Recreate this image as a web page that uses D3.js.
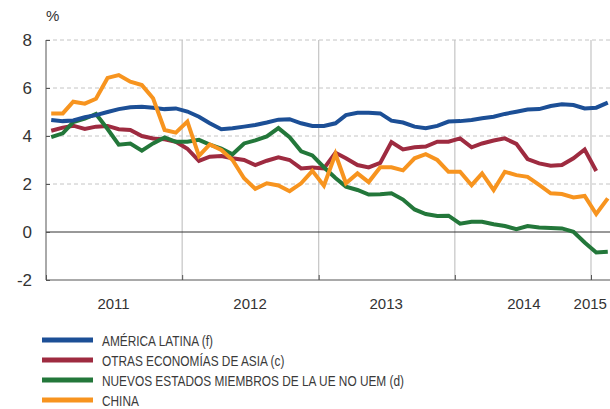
<!DOCTYPE html>
<html>
<head>
<meta charset="utf-8">
<script src="https://cdn.jsdelivr.net/npm/d3@7"></script>
<style>
  body { margin: 0; background: #fff; }
  svg { display: block; font-family: "Liberation Sans", Arial, sans-serif; }
</style>
</head>
<body>
<svg id="chart" width="610" height="409"></svg>
<script>
// monthly series, Jan 2011 .. Feb 2015
const months = d3.timeMonth.range(new Date(2011, 0, 1), new Date(2015, 2, 1));

const americaLatina = [4.67, 4.62, 4.65, 4.78, 4.87, 5.0, 5.12, 5.2, 5.22, 5.18, 5.12, 5.15,
  5.02, 4.8, 4.53, 4.28, 4.32, 4.39, 4.46, 4.56, 4.68, 4.7, 4.53, 4.42,
  4.42, 4.53, 4.87, 4.97, 4.97, 4.94, 4.64, 4.56, 4.39, 4.32, 4.42, 4.6,
  4.62, 4.67, 4.74, 4.8, 4.92, 5.01, 5.1, 5.12, 5.25, 5.32, 5.29, 5.15,
  5.18, 5.39];

const otrasAsia = [4.22, 4.35, 4.43, 4.29, 4.39, 4.42, 4.28, 4.25, 4.0, 3.9, 3.86, 3.76,
  3.47, 2.96, 3.14, 3.17, 3.07, 3.0, 2.79, 2.97, 3.11, 3.0, 2.65, 2.69,
  2.65, 3.3, 3.07, 2.79, 2.69, 2.88, 3.75, 3.44, 3.53, 3.56, 3.76, 3.76,
  3.9, 3.53, 3.69, 3.81, 3.9, 3.67, 3.04, 2.86, 2.76, 2.79, 3.07, 3.44,
  2.54];

const nuevosUE = [3.95, 4.11, 4.58, 4.72, 4.92, 4.29, 3.64, 3.69, 3.39, 3.69, 3.94, 3.76,
  3.76, 3.84, 3.64, 3.47, 3.24, 3.69, 3.82, 3.98, 4.33, 3.95, 3.36, 3.19,
  2.7, 2.25, 1.89, 1.75, 1.56, 1.57, 1.61, 1.35, 0.94, 0.75, 0.67, 0.68,
  0.35, 0.43, 0.43, 0.32, 0.25, 0.12, 0.25, 0.19, 0.17, 0.15, 0.01, -0.44,
  -0.85, -0.82];

const china = [4.94, 4.94, 5.43, 5.35, 5.55, 6.42, 6.54, 6.26, 6.12, 5.57, 4.25, 4.14,
  4.6, 3.17, 3.65, 3.42, 3.0, 2.24, 1.8, 2.03, 1.94, 1.7, 2.03, 2.55,
  1.93, 3.25, 2.03, 2.44, 2.08, 2.7, 2.7, 2.57, 3.07, 3.24, 3.0, 2.51,
  2.51, 1.95, 2.44, 1.75, 2.51, 2.37, 2.3, 1.96, 1.61, 1.58, 1.44, 1.5,
  0.75, 1.4];

const seriesNames = ['AMÉRICA LATINA (f)', 'OTRAS ECONOMÍAS DE ASIA (c)',
  'NUEVOS ESTADOS MIEMBROS DE LA UE NO UEM (d)', 'CHINA'];
const seriesColors = ['#1c4f96', '#9e2b40', '#23773a', '#f7941f'];

const yTicks = [-2, 0, 2, 4, 6, 8];
const yearLabels = ['2011', '2012', '2013', '2014', '2015'];
const yearLabelDates = [new Date(2011, 6, 1), new Date(2012, 6, 1), new Date(2013, 6, 1),
  new Date(2014, 6, 5), new Date(2014, 11, 30)];
const yearTicks = [new Date(2011, 0, 1), new Date(2012, 0, 1), new Date(2013, 0, 1),
  new Date(2014, 0, 1), new Date(2015, 0, 1)];

const svg = d3.select('#chart');
const plotLeft = 46, plotRight = 610, plotTop = 40, plotBottom = 280;

const x = d3.scaleTime()
  .domain([new Date(2011, 0, 1), new Date(2015, 0, 1)])
  .range([plotLeft, 591]);
const y = d3.scaleLinear().domain([-2, 8]).range([plotBottom, plotTop]);

// horizontal dashed grid
svg.append('g').selectAll('line')
  .data(yTicks.filter(d => d !== -2 && d !== 0))
  .join('line')
  .attr('x1', plotLeft).attr('x2', plotRight)
  .attr('y1', d => y(d)).attr('y2', d => y(d))
  .attr('stroke', '#c4c4c4').attr('stroke-width', 1)
  .attr('stroke-dasharray', '4,3');

// vertical year grid
svg.append('g').selectAll('line')
  .data(yearTicks.slice(1))
  .join('line')
  .attr('x1', d => x(d)).attr('x2', d => x(d))
  .attr('y1', plotTop).attr('y2', plotBottom)
  .attr('stroke', '#c4c4c4').attr('stroke-width', 1.2);

// zero line
svg.append('line')
  .attr('x1', plotLeft).attr('x2', plotRight)
  .attr('y1', y(0)).attr('y2', y(0))
  .attr('stroke', '#333').attr('stroke-width', 1);

// axes
const yAxis = d3.axisLeft(y).tickValues(yTicks).tickSize(-4).tickPadding(14)
  .tickFormat(d => String(d));
const gy = svg.append('g').attr('transform', `translate(${plotLeft},0)`).call(yAxis);
gy.select('.domain').attr('stroke', '#555').attr('d', `M0,${plotTop}V${plotBottom}`);
gy.selectAll('.tick line').attr('stroke', '#555');
gy.selectAll('.tick text').attr('fill', '#333')
  .style('font-size', '17px').style('font-family', '"Liberation Sans", Arial, sans-serif');

const xAxis = d3.axisBottom(x).tickValues(yearTicks).tickSize(-5).tickFormat('');
const gx = svg.append('g').attr('transform', `translate(0,${plotBottom})`).call(xAxis);
gx.select('.domain').attr('stroke', '#555').attr('d', `M${plotLeft},0H${plotRight}`);
gx.selectAll('.tick line').attr('stroke', '#555');

svg.append('g').selectAll('text')
  .data(yearLabels)
  .join('text')
  .attr('x', (d, i) => x(yearLabelDates[i]))
  .attr('y', 309)
  .attr('text-anchor', 'middle')
  .attr('fill', '#333')
  .style('font-size', '15px')
  .text(d => d);

svg.append('text')
  .attr('x', 46).attr('y', 21)
  .attr('fill', '#333')
  .style('font-size', '15px')
  .text('%');

// lines
const allSeries = [americaLatina, otrasAsia, nuevosUE, china];
const line = d3.line()
  .x((d, i) => x(d3.timeDay.offset(months[i], 14)))
  .y(d => y(d));

const drawOrder = [1, 2, 0, 3];
svg.append('g').selectAll('path')
  .data(drawOrder)
  .join('path')
  .attr('d', k => line(allSeries[k]))
  .attr('fill', 'none')
  .attr('stroke', k => seriesColors[k])
  .attr('stroke-width', 4)
  .attr('stroke-linejoin', 'miter');

// legend (condensed lettering squeezed with textLength)
const legend = svg.append('g').selectAll('g')
  .data(seriesNames)
  .join('g')
  .attr('transform', (d, i) => `translate(42,${340 + i * 20})`);
legend.append('line')
  .attr('x1', 0).attr('x2', 51)
  .attr('stroke', (d, i) => seriesColors[i])
  .attr('stroke-width', 5);
legend.append('text')
  .attr('x', 60).attr('y', 5.5)
  .attr('fill', '#3a3a3a')
  .style('font-size', '15px')
  .text(d => d)
  .each(function () {
    const w = this.getComputedTextLength();
    d3.select(this).attr('textLength', w * 0.79).attr('lengthAdjust', 'spacingAndGlyphs');
  });
</script>
</body>
</html>
